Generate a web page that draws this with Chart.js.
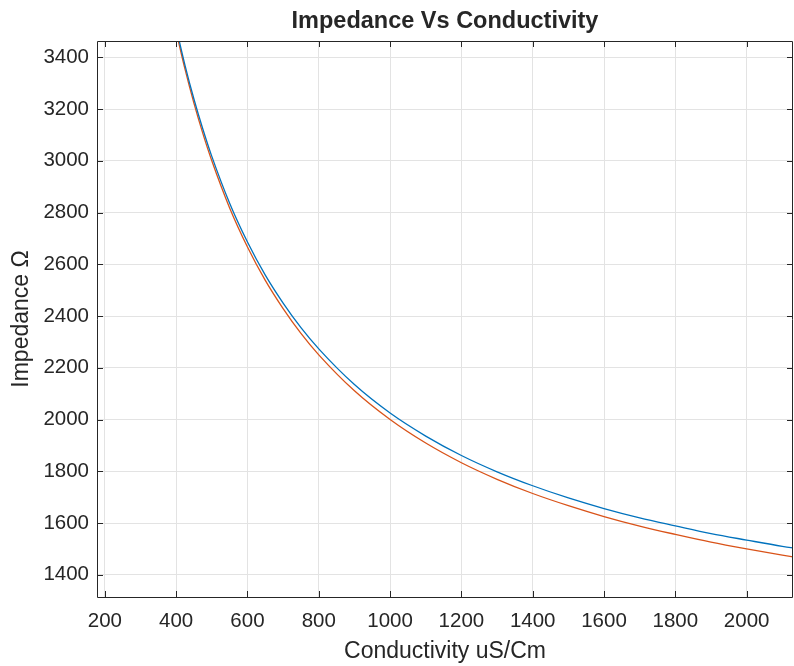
<!DOCTYPE html>
<html>
<head>
<meta charset="utf-8">
<script src="https://cdn.jsdelivr.net/npm/chart.js@4/dist/chart.umd.min.js"></script>
<style>
  body { margin: 0; background: #fff; }
  canvas { display: block; }
</style>
</head>
<body>
<canvas id="chart" width="794" height="666"></canvas>
<script>
// conductivity (uS/Cm) sample points
const conductivity = [400, 425, 450, 475, 500, 550, 600, 650, 700, 750, 800, 900, 1000,
  1100, 1200, 1300, 1400, 1500, 1600, 1700, 1800, 1900, 2000, 2100, 2150];

// upper (blue) curve
const impedanceBlue = [3515, 3368, 3238, 3122, 3017, 2836, 2686, 2558, 2450, 2355, 2273, 2135, 2025,
  1936, 1861, 1798, 1744, 1697, 1656, 1620, 1589, 1559, 1534, 1510, 1500];

// lower (red) curve
const impedanceRed = [3500, 3353, 3222, 3105, 3000, 2818, 2667, 2538, 2429, 2333, 2250, 2111, 2000,
  1909, 1833, 1769, 1714, 1667, 1625, 1588, 1556, 1526, 1500, 1476, 1465];

const xRange = [178, 2130];
const yRange = [1314, 3463];

const textColor = '#262626';
const fontFamily = "'Liberation Sans', Arial, Helvetica, sans-serif";

const toPoints = (xs, ys) => xs.map((x, i) => ({ x, y: ys[i] }));

// box around the plot and inward tick marks, like the original figure
const boxPlugin = {
  id: 'box',
  afterDatasetsDraw(chart) {
    const { ctx, chartArea: { left, right, top, bottom }, scales: { x, y } } = chart;
    ctx.save();
    ctx.strokeStyle = textColor;
    ctx.lineWidth = 1;
    ctx.beginPath();
    ctx.moveTo(left + 0.5, top + 0.5);
    ctx.lineTo(left + 0.5, bottom + 0.5);
    ctx.lineTo(right - 0.5, bottom + 0.5);
    ctx.lineTo(right - 0.5, top + 0.5);
    ctx.closePath();
    ctx.stroke();

    const len = 6;
    ctx.beginPath();
    x.ticks.forEach(t => {
      const px = Math.round(x.getPixelForValue(t.value)) + 0.5;
      ctx.moveTo(px, bottom);
      ctx.lineTo(px, bottom - len);
      ctx.moveTo(px, top);
      ctx.lineTo(px, top + len);
    });
    y.ticks.forEach(t => {
      const py = Math.round(y.getPixelForValue(t.value)) + 0.5;
      ctx.moveTo(left, py);
      ctx.lineTo(left + len, py);
      ctx.moveTo(right, py);
      ctx.lineTo(right - len, py);
    });
    ctx.stroke();
    ctx.restore();
  }
};

new Chart(document.getElementById('chart').getContext('2d'), {
  type: 'line',
  data: {
    datasets: [
      {
        data: toPoints(conductivity, impedanceBlue),
        borderColor: '#0072BD',
        borderWidth: 1.3,
        pointRadius: 0,
        cubicInterpolationMode: 'monotone'
      },
      {
        data: toPoints(conductivity, impedanceRed),
        borderColor: '#D95319',
        borderWidth: 1.3,
        pointRadius: 0,
        cubicInterpolationMode: 'monotone'
      }
    ]
  },
  options: {
    responsive: false,
    animation: false,
    layout: { padding: { left: 0, right: 1, top: 0, bottom: 0 } },
    plugins: {
      legend: { display: false },
      tooltip: { enabled: false },
      title: {
        display: true,
        text: 'Impedance Vs Conductivity',
        fullSize: false,
        color: textColor,
        font: { family: fontFamily, size: 23.5, weight: 'bold', lineHeight: 1.2 },
        padding: { top: 7.6, bottom: 5.2 }
      }
    },
    scales: {
      x: {
        type: 'linear',
        min: xRange[0],
        max: xRange[1],
        border: { display: false },
        grid: { color: '#e3e3e3', drawTicks: false },
        ticks: {
          stepSize: 200,
          includeBounds: false,
          maxRotation: 0,
          padding: 12,
          color: textColor,
          font: { family: fontFamily, size: 20.5 },
          callback: v => String(v)
        },
        title: {
          display: true,
          text: 'Conductivity uS/Cm',
          color: textColor,
          font: { family: fontFamily, size: 23, lineHeight: 1.2 },
          padding: { top: 0, bottom: 1 }
        },
        afterFit(scale) { scale.height = 69; }
      },
      y: {
        type: 'linear',
        min: yRange[0],
        max: yRange[1],
        border: { display: false },
        grid: { color: '#e3e3e3', drawTicks: false },
        ticks: {
          stepSize: 200,
          includeBounds: false,
          padding: 8,
          color: textColor,
          font: { family: fontFamily, size: 20.5 },
          callback: v => String(v)
        },
        title: {
          display: true,
          text: 'Impedance Ω',
          color: textColor,
          font: { family: fontFamily, size: 23, lineHeight: 1.2 },
          padding: { top: 8, bottom: 0 }
        },
        afterFit(scale) { scale.width = 97; }
      }
    }
  },
  plugins: [boxPlugin]
});
</script>
</body>
</html>
